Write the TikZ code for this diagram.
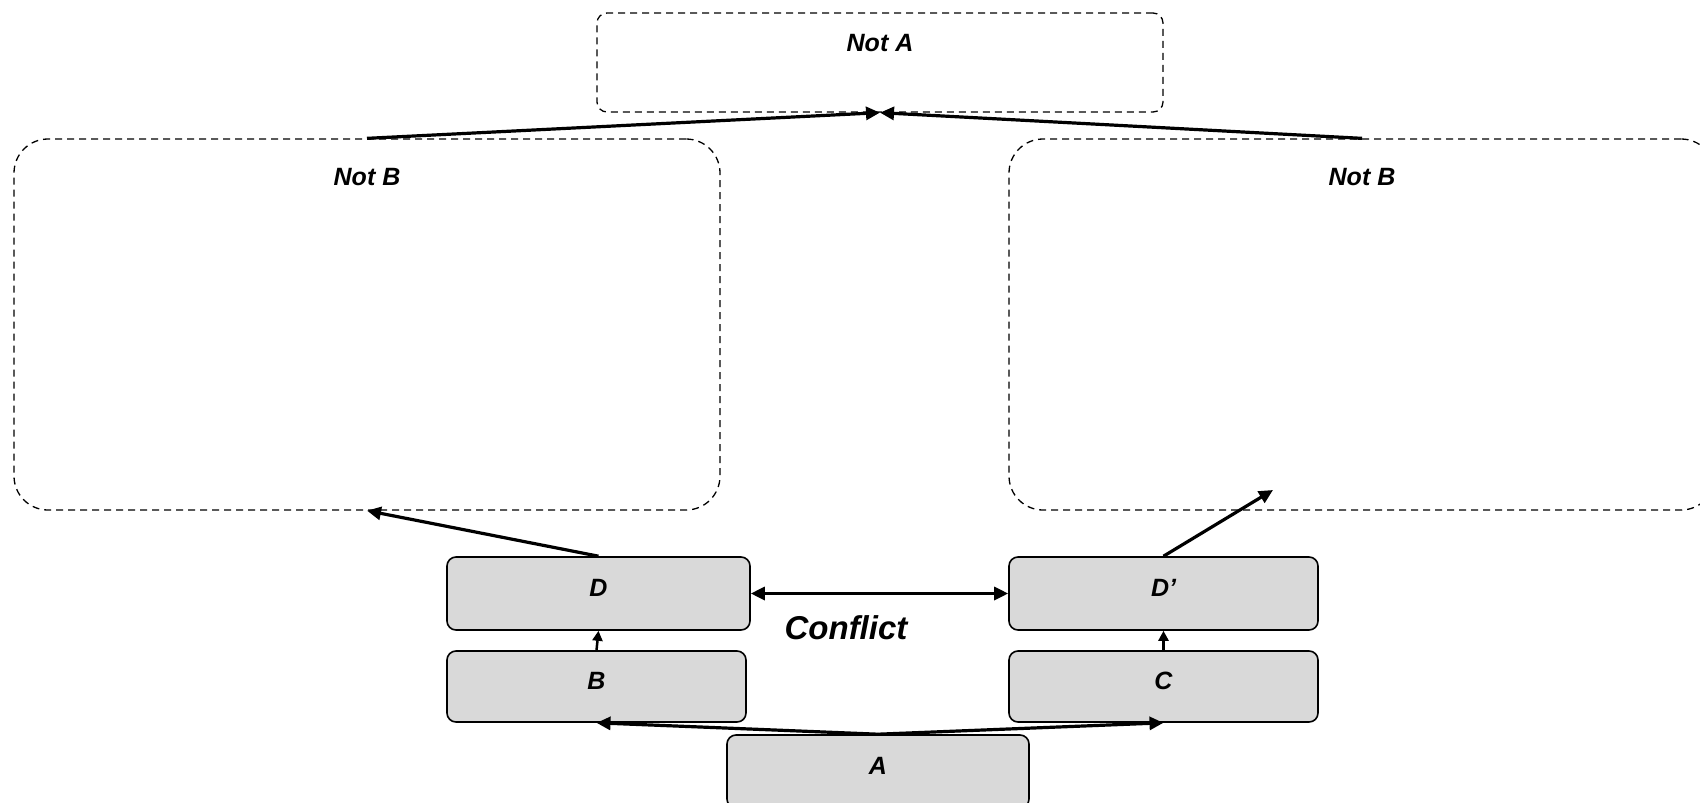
\documentclass[tikz,border=0pt]{standalone}
\usepackage{fontspec}
\setmainfont{Liberation Sans}
\usetikzlibrary{arrows.meta}
\definecolor{boxgray}{HTML}{D9D9D9}
\begin{document}
\begin{tikzpicture}[x=1pt,y=-1pt,
  gbox/.style={draw=black, line width=1.6pt, fill=boxgray, rounded corners=9pt, inner sep=0pt,
    text height=18pt, text depth=12pt,
    font=\fontsize{25}{28}\selectfont\bfseries\itshape},
  dbox/.style={draw=black, line width=1.3pt, dash pattern=on 7pt off 5pt, inner sep=0pt},
  lbl/.style={inner sep=0pt, font=\fontsize{25}{28}\selectfont\bfseries\itshape},
  conn/.style={line width=3.2pt, -{Triangle[length=14pt,width=13pt]}},
  sconn/.style={line width=2.5pt, -{Triangle[length=10pt,width=10pt]}},
]
\useasboundingbox (0,0) rectangle (1700,803);

% dashed boxes
\node[dbox, rounded corners=10pt, minimum width=566pt, minimum height=99pt] (notA) at (880,62.5) {};
\node[lbl] (notAt) at (880,43) {Not A};
\node[dbox, rounded corners=34pt, minimum width=706pt, minimum height=371pt] (nbl) at (367,324.5) {};
\node[lbl] (nblt) at (367,177) {Not B};
\node[dbox, rounded corners=34pt, minimum width=706pt, minimum height=371pt] (nbr) at (1362,324.5) {};
\node[lbl] (nbrt) at (1362,177) {Not B};

% gray boxes
\node[gbox, minimum width=303pt, minimum height=73pt] (D) at (598.5,593.5) {D};
\node[gbox, minimum width=309pt, minimum height=73pt] (Dp) at (1163.5,593.5) {D’};
\node[gbox, minimum width=299pt, minimum height=71pt] (B) at (596.5,686.5) {B};
\node[gbox, minimum width=309pt, minimum height=71pt] (C) at (1163.5,686.5) {C};
\node[gbox, minimum width=302pt, minimum height=73pt] (A) at (878,771.5) {A};

\node[lbl, font=\fontsize{33}{38}\selectfont\bfseries\itshape] (conf) at (846,628) {Conflict};

% connectors
\coordinate (dpend) at (1273,490);
\draw[conn] (nbl.north) -- (notA.south);
\draw[conn] (nbr.north) -- (notA.south);
\draw[conn] (D.north) -- (nbl.south);
\draw[conn] (Dp.north) -- (dpend);
\draw[line width=3.2pt, {Triangle[length=14pt,width=13pt]}-{Triangle[length=14pt,width=13pt]}] (D.east) -- (Dp.west);
\draw[sconn] (B.north) -- (D.south);
\draw[sconn] (C.north) -- (Dp.south);
\draw[conn] (A.north) -- (B.south);
\draw[conn] (A.north) -- (C.south);
\end{tikzpicture}
\end{document}
